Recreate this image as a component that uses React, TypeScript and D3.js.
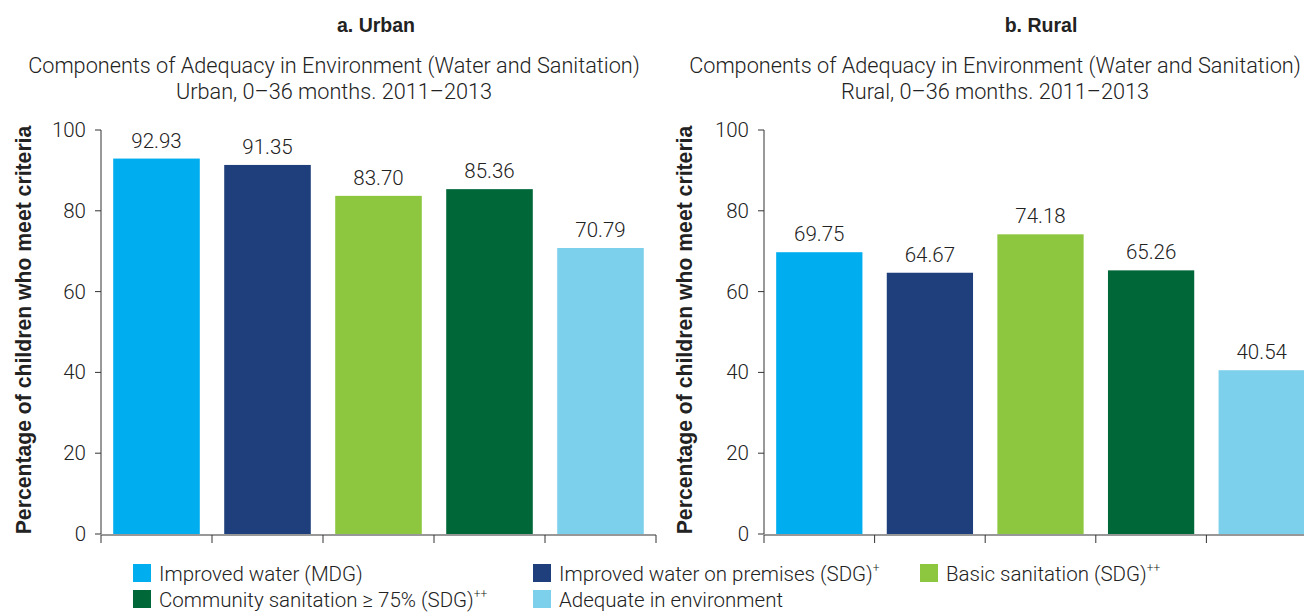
import React from "react";
import * as d3 from "d3";

const categories = [
  "Improved water (MDG)",
  "Improved water on premises (SDG)",
  "Basic sanitation (SDG)",
  "Community sanitation ≥ 75% (SDG)",
  "Adequate in environment",
];
const superscripts = ["", "+", "++", "++", ""];
const colors = ["#00AEEF", "#1E3F7B", "#8DC63F", "#006838", "#7DD0EC"];
const urbanValues = [92.93, 91.35, 83.7, 85.36, 70.79];
const ruralValues = [69.75, 64.67, 74.18, 65.26, 40.54];
const yTicks = [0, 20, 40, 60, 80, 100];

const LIGHT = "Roboto, 'Liberation Sans', sans-serif";
const BOLD = "'Liberation Sans', Arial, sans-serif";

function Panel({ x0, x1, values, title, subtitle2, titleX, subX, labelX }: any) {
  const y = d3.scaleLinear().domain([0, 100]).range([534, 130]);
  const x = d3.scaleBand<number>().domain(d3.range(values.length)).range([x0, x1]).paddingInner(0.22).paddingOuter(0.11);
  const boundaries = d3.range(values.length + 1).map((i) => x0 + i * ((x1 - x0) / values.length));
  return (
    <g>
      <text x={titleX} y={32} textAnchor="middle" fontFamily={BOLD} fontWeight="bold" fontSize={19.5} fill="#222">{title}</text>
      <text x={subX} y={73} textAnchor="middle" fontFamily={LIGHT} fontWeight={300} fontSize={21.7} fill="#222">Components of Adequacy in Environment (Water and Sanitation)</text>
      <text x={subX} y={99} textAnchor="middle" fontFamily={LIGHT} fontWeight={300} fontSize={21.7} fill="#222">{subtitle2}</text>
      <text transform={`translate(${labelX},${330}) rotate(-90)`} textAnchor="middle" fontFamily={BOLD} fontWeight="bold" fontSize={21.2} fill="#222">Percentage of children who meet criteria</text>
      {values.map((v: number, i: number) => (
        <g key={i}>
          <rect x={x(i)} y={y(v)} width={x.bandwidth()} height={y(0) - y(v)} fill={colors[i]} />
          <text x={(x(i) as number) + x.bandwidth() / 2} y={y(v) - 11} textAnchor="middle" fontFamily={LIGHT} fontWeight={300} fontSize={20.5} fill="#222">{v.toFixed(2)}</text>
        </g>
      ))}
      <line x1={x0} x2={x0} y1={y(100)} y2={y(0)} stroke="#333" strokeWidth={1} />
      {yTicks.map((t) => (
        <g key={t}>
          <line x1={x0 - 6} x2={x0} y1={y(t)} y2={y(t)} stroke="#333" strokeWidth={1} />
          <text x={x0 - 15} y={y(t) + 7} textAnchor="end" fontFamily={LIGHT} fontWeight={300} fontSize={20.5} fill="#222">{t}</text>
        </g>
      ))}
      <line x1={x0} x2={x1} y1={y(0) + 1} y2={y(0) + 1} stroke="#333" strokeWidth={1.2} />
      {boundaries.map((b, i) => (
        <line key={i} x1={b} x2={b} y1={y(0) + 1} y2={y(0) + 9} stroke="#333" strokeWidth={1} />
      ))}
    </g>
  );
}

const legendPos = [
  [133, 573],
  [533, 573],
  [920, 573],
  [133, 599],
  [533, 599],
];

export default function App() {
  return (
    <svg width={1304} height={613} style={{ position: "absolute", left: 0, top: 0, background: "#fff" }}>
      <Panel x0={101} x1={656} values={urbanValues} title="a. Urban" subtitle2="Urban, 0–36 months. 2011–2013" titleX={376} subX={334} labelX={31} />
      <Panel x0={764} x1={1317} values={ruralValues} title="b. Rural" subtitle2="Rural, 0–36 months. 2011–2013" titleX={1041} subX={995} labelX={692} />
      {categories.map((c, i) => (
        <g key={c} transform={`translate(${legendPos[i][0]},${legendPos[i][1]})`}>
          <rect x={0} y={-9} width={18} height={18} fill={colors[i]} />
          <text x={26} y={8} fontFamily={LIGHT} fontWeight={300} fontSize={20.5} fill="#222">
            {c}
            {superscripts[i] && <tspan fontSize={12} dy={-9}>{superscripts[i]}</tspan>}
          </text>
        </g>
      ))}
    </svg>
  );
}
